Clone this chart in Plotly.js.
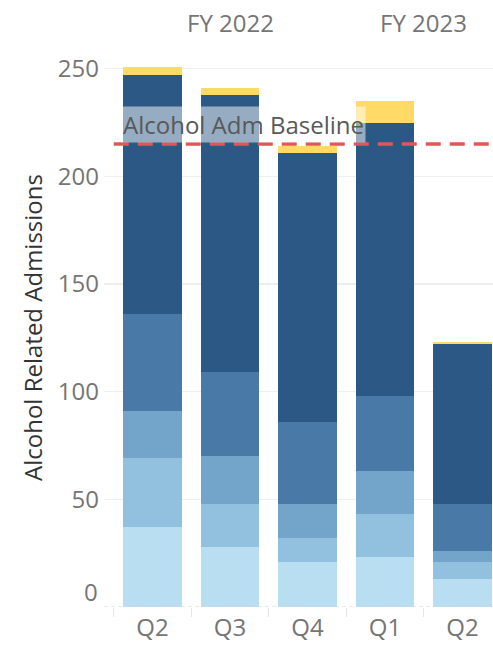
<!DOCTYPE html>
<html>
<head>
<meta charset="utf-8">
<script src="https://cdn.plot.ly/plotly-3.0.1.min.js"></script>
<style>
  html, body { margin: 0; padding: 0; background: #fff; }
  #chart { width: 493px; height: 648px; }
</style>
</head>
<body>
<div id="chart"></div>
<script>
// ---- data ----
const quarters    = ['Q2', 'Q3', 'Q4', 'Q1', 'Q2'];
const fiscalYears = ['FY 2022', 'FY 2022', 'FY 2022', 'FY 2023', 'FY 2023'];
const seg1 = [37, 28, 21, 23, 13];
const seg2 = [32, 20, 11, 20, 8];
const seg3 = [22, 22, 16, 20, 5];
const seg4 = [45, 39, 38, 35, 22];
const seg5 = [111, 129, 125, 127, 74];
const seg6 = [4, 3, 3, 10, 1];
const baselineValue = 215;
const baselineLabel = 'Alcohol Adm Baseline';
const yTicks = [0, 50, 100, 150, 200, 250];

// ---- build ----
const keys = quarters.map((q, i) => fiscalYears[i] + ' ' + q);
const series = [seg1, seg2, seg3, seg4, seg5, seg6];
const colors = ['#b9ddf1', '#92c1e0', '#72a5c9', '#4879a7', '#2b5884', '#ffda66'];
const FONT = 'Open Sans, sans-serif';
const GREY = '#757575';

const traces = series.map((vals, i) => ({
  type: 'bar',
  x: keys,
  y: vals,
  name: 'Segment ' + (i + 1),
  marker: { color: colors[i], line: { width: 0 } },
  hoverinfo: 'x+y'
}));

// fiscal-year header annotations, centred over their groups
const fyGroups = {};
fiscalYears.forEach((fy, i) => { (fyGroups[fy] = fyGroups[fy] || []).push(i); });
const annotations = Object.keys(fyGroups).map(fy => {
  const idx = fyGroups[fy];
  const mid = idx.reduce((a, b) => a + b, 0) / idx.length;
  return {
    text: fy, x: mid, xref: 'x', y: 1.0465, yref: 'paper',
    xanchor: 'center', yanchor: 'middle', showarrow: false,
    font: { family: FONT, size: 24, color: GREY }
  };
});
annotations.push({
  text: baselineLabel, x: 0.043, xref: 'paper', y: baselineValue, yref: 'y',
  xanchor: 'left', yanchor: 'bottom', showarrow: false, yshift: 1,
  bgcolor: 'rgba(255,255,255,0.5)', borderpad: 1,
  font: { family: FONT, size: 24, color: '#595959' }
});
// the lowest tick label sits raised above the axis floor, as in the original
annotations.push({
  text: String(yTicks[0]), x: 0, xref: 'paper', y: yTicks[0], yref: 'y',
  xanchor: 'right', yanchor: 'middle', xshift: -4, yshift: 16, showarrow: false,
  font: { family: FONT, size: 24, color: GREY }
});

const layout = {
  width: 493, height: 648,
  margin: { l: 104, r: 0, t: 48, b: 41 },
  paper_bgcolor: '#fff', plot_bgcolor: '#fff',
  barmode: 'stack', bargap: 0.24,
  showlegend: false,
  font: { family: FONT, color: GREY },
  xaxis: {
    type: 'category',
    categoryorder: 'array', categoryarray: keys,
    tickmode: 'array', tickvals: keys, ticktext: quarters,
    tickson: 'boundaries',
    ticks: 'outside', ticklen: 9, tickwidth: 1, tickcolor: '#e6e6e6',
    ticklabelstandoff: 4,
    range: [-0.626, 4.394],
    showgrid: false, zeroline: false, showline: false,
    tickfont: { family: FONT, size: 24, color: GREY },
    fixedrange: true
  },
  yaxis: {
    range: [0, 259.6],
    tickmode: 'array', tickvals: yTicks.slice(1),
    showgrid: true, gridcolor: '#eeeeee', gridwidth: 1.5,
    zeroline: false, showline: false, ticks: '',
    ticklabelstandoff: 4,
    tickfont: { family: FONT, size: 24, color: GREY },
    title: { text: 'Alcohol Related Admissions', standoff: 8,
             font: { family: FONT, size: 24, color: '#333333' } },
    fixedrange: true
  },
  shapes: [
    { type: 'line', xref: 'paper', x0: 0, x1: 1, yref: 'y', y0: 0, y1: 0,
      line: { color: '#d4d4d4', width: 1, dash: '4px,3px' }, layer: 'above' },
    { type: 'line', xref: 'x', x0: -0.5, x1: 4.6, yref: 'y', y0: baselineValue, y1: baselineValue,
      line: { color: '#e15759', width: 3.5, dash: '15px,9px' }, layer: 'above' }
  ],
  annotations: annotations
};

Plotly.newPlot('chart', traces, layout, { displayModeBar: false, staticPlot: true });
</script>
</body>
</html>
